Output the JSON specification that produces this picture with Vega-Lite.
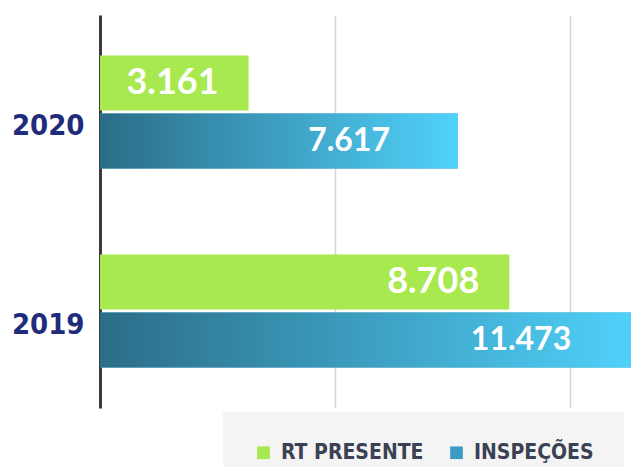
{
  "$schema": "https://vega.github.io/schema/vega-lite/v6.json",
  "width": 531,
  "height": 393,
  "autosize": {"type": "none"},
  "padding": {"left": 100, "top": 15, "right": 0, "bottom": 59},
  "background": "white",
  "config": {"view": {"stroke": null}},
  "data": {
    "values": [
      {"year": "2020", "series": "RT PRESENTE", "value": 3161, "label": "3.161"},
      {"year": "2020", "series": "INSPEÇÕES", "value": 7617, "label": "7.617"},
      {"year": "2019", "series": "RT PRESENTE", "value": 8708, "label": "8.708"},
      {"year": "2019", "series": "INSPEÇÕES", "value": 11473, "label": "11.473"}
    ]
  },
  "encoding": {
    "y": {
      "field": "year",
      "type": "nominal",
      "sort": ["2020", "2019"],
      "scale": {"paddingInner": 0.432, "paddingOuter": 0.2035},
      "axis": {
        "title": null,
        "domainColor": "#3c3c3c",
        "domainWidth": 3,
        "ticks": false,
        "grid": false,
        "labelFont": "DejaVu Sans Condensed, Liberation Sans",
        "labelFontSize": 29,
        "labelFontWeight": "bold",
        "labelColor": "#1f2b7b",
        "labelPadding": 16,
        "labelOffset": 14
      }
    },
    "yOffset": {
      "field": "series",
      "type": "nominal",
      "sort": ["RT PRESENTE", "INSPEÇÕES"],
      "scale": {"domain": ["RT PRESENTE", "INSPEÇÕES"], "paddingInner": 0.05}
    },
    "x": {
      "field": "value",
      "type": "quantitative",
      "scale": {"domain": [0, 11298], "nice": false, "zero": true},
      "axis": {
        "title": null,
        "grid": true,
        "values": [5000, 10000],
        "labels": false,
        "ticks": false,
        "domain": false,
        "gridColor": "#d4d4d4",
        "gridWidth": 1.5
      }
    }
  },
  "layer": [
    {
      "mark": {"type": "bar", "clip": true},
      "encoding": {
        "color": {
          "field": "series",
          "type": "nominal",
          "scale": {"domain": ["RT PRESENTE", "INSPEÇÕES"], "range": ["#a8e94f", "#3a9cc6"]},
          "legend": {
            "orient": "none",
            "legendX": 123,
            "legendY": 397,
            "direction": "horizontal",
            "title": null,
            "fillColor": "#f4f4f4",
            "padding": 30,
            "symbolType": "square",
            "symbolSize": 160,
            "symbolStrokeWidth": 0,
            "labelFont": "DejaVu Sans Condensed, Liberation Sans",
            "labelFontSize": 21,
            "labelFontWeight": "bold",
            "labelColor": "#3a4152",
            "labelOffset": 7,
            "columnPadding": 22,
            "labelLimit": 300
          }
        }
      }
    },
    {
      "transform": [{"filter": "datum.series === 'INSPEÇÕES'"}],
      "mark": {
        "type": "bar",
        "clip": true,
        "fill": {
          "gradient": "linear",
          "x1": 0, "y1": 0, "x2": 1, "y2": 0,
          "stops": [
            {"offset": 0, "color": "#2b6d88"},
            {"offset": 1, "color": "#50d2fb"}
          ]
        }
      }
    },
    {
      "transform": [{"filter": "datum.series === 'RT PRESENTE'"}],
      "mark": {
        "type": "text",
        "align": "right",
        "baseline": "middle",
        "dx": -30,
        "font": "Lato",
        "fontSize": 36,
        "fontWeight": "bold",
        "color": "white"
      },
      "encoding": {"text": {"field": "label"}}
    },
    {
      "transform": [{"filter": "datum.series === 'INSPEÇÕES'"}],
      "mark": {
        "type": "text",
        "align": "right",
        "baseline": "middle",
        "dx": -68,
        "font": "Lato",
        "fontSize": 32,
        "fontWeight": "bold",
        "color": "white"
      },
      "encoding": {"text": {"field": "label"}}
    }
  ]
}
